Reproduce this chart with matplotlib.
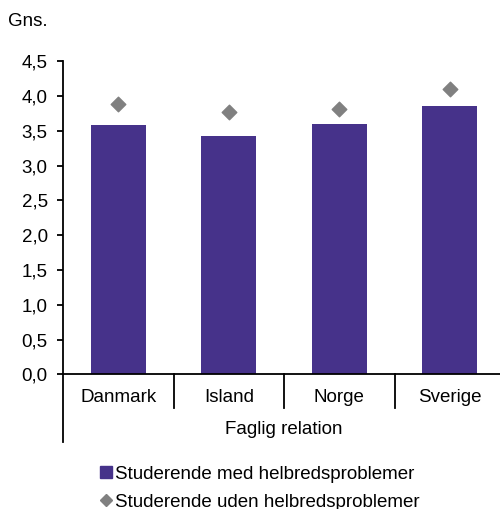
import matplotlib.pyplot as plt
from matplotlib.lines import Line2D
import numpy as np

plt.rcParams['font.family'] = ['Liberation Sans', 'DejaVu Sans']

#chart data
countries = ["Danmark", "Island", "Norge", "Sverige"]
med_problemer = [3.58, 3.42, 3.60, 3.85]
uden_problemer = [3.88, 3.77, 3.82, 4.10]
y_ticks = [0.0, 0.5, 1.0, 1.5, 2.0, 2.5, 3.0, 3.5, 4.0, 4.5]
group_label = "Faglig relation"

bar_color = "#46328a"
diamond_color = "#808080"
fs = 13.5

fig = plt.figure(figsize=(5.0, 5.09), dpi=100)
ax = fig.add_axes([0.126, 0.2646, 0.884, 0.615])

x = np.arange(len(countries))
ax.bar(x, med_problemer, width=0.5, color=bar_color, zorder=2)
ax.scatter(x, uden_problemer, marker='D', s=55, color=diamond_color, zorder=3)

ax.set_xlim(-0.5, 3.5)
ax.set_ylim(0, 4.5)
ax.set_yticks(y_ticks)
ax.set_yticklabels([f"{v:.1f}".replace('.', ',') for v in y_ticks], fontsize=fs)
ax.tick_params(axis='y', direction='out', length=4, width=1.3, pad=7)
ax.set_xticks([])

for s in ['top', 'right']:
    ax.spines[s].set_visible(False)
for s in ['left', 'bottom']:
    ax.spines[s].set_linewidth(1.3)

#category separators and extended left axis line
for b in [0.5, 1.5, 2.5]:
    ax.plot([b, b], [0, -0.49], color='black', lw=1.3, clip_on=False)
ax.plot([-0.5, -0.5], [0, -0.98], color='black', lw=1.3, clip_on=False)

for xi, name in zip(x, countries):
    ax.text(xi, -0.33, name, ha='center', va='center', fontsize=fs)
ax.text(1.5, -0.8, group_label, ha='center', va='center', fontsize=fs)

fig.text(0.016, 0.957, "Gns.", ha='left', va='center', fontsize=fs)

handles = [
    Line2D([], [], marker='s', linestyle='none', color=bar_color, markersize=8),
    Line2D([], [], marker='D', linestyle='none', color=diamond_color, markersize=6.5),
]
fig.legend(handles, ["Studerende med helbredsproblemer", "Studerende uden helbredsproblemer"],
           loc='upper center', bbox_to_anchor=(0.52, 0.1), frameon=False,
           fontsize=fs, handlelength=0.6, handletextpad=0.15, labelspacing=0.57,
           borderaxespad=0)

fig.savefig("out.png", dpi=100)
